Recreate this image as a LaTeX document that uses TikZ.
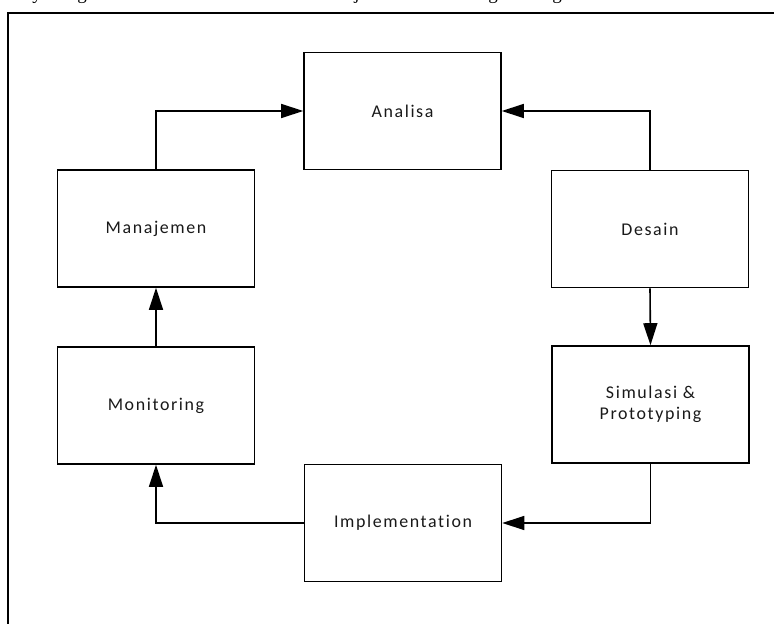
\documentclass[tikz,border=0pt]{standalone}
\usepackage{fontspec}
\setmainfont{Liberation Serif}
\newfontfamily\lblfont[LetterSpace=9,Ligatures=NoCommon]{Carlito}
\usetikzlibrary{arrows.meta}
\begin{document}
\begin{tikzpicture}[x=1bp,y=-1bp,
  stagebox/.style={draw, line width=1.6bp, minimum width=197bp, minimum height=117bp,
    inner sep=0pt, align=center, text=black!90, font=\lblfont\fontsize{18}{21}\selectfont},
  flow/.style={line width=1.6bp, -{Triangle[length=22bp,width=14bp]}},
  toptext/.style={anchor=base, inner sep=0pt, font=\fontsize{19}{22}\selectfont}]
\useasboundingbox (0,0) rectangle (774,624);
\begin{scope}
\clip (0,0) rectangle (774,624);
\node[toptext] (t1) at (37,0) {y};
\node[toptext] (t2) at (82,0) {g};
\node[toptext] (t3) at (357,0) {j};
\node[toptext] (t4) at (493,0) {g};
\node[toptext] (t5) at (557,0) {g};
\end{scope}
\draw[line width=1.6bp] (8,630) -- (8,13) -- (780,13);

\node[stagebox] (ana) at (402.5,111) {Analisa};
\node[stagebox] (des) at (650,229) {Desain};
\node[stagebox] (sim) at (650.5,404.5) {Simulasi \&\\Prototyping};
\node[stagebox] (imp) at (403,523) {Implementation};
\node[stagebox] (mon) at (156,405.5) {Monitoring};
\node[stagebox] (man) at (156,228.5) {Manajemen};

\draw[flow] (man.north) |- (ana.west);
\draw[flow] (des.north) |- (ana.east);
\draw[flow] (des.south) -- (sim.north);
\draw[flow] (sim.south) |- (imp.east);
\draw[flow] (imp.west) -| (mon.south);
\draw[flow] (mon.north) -- (man.south);
\end{tikzpicture}
\end{document}
